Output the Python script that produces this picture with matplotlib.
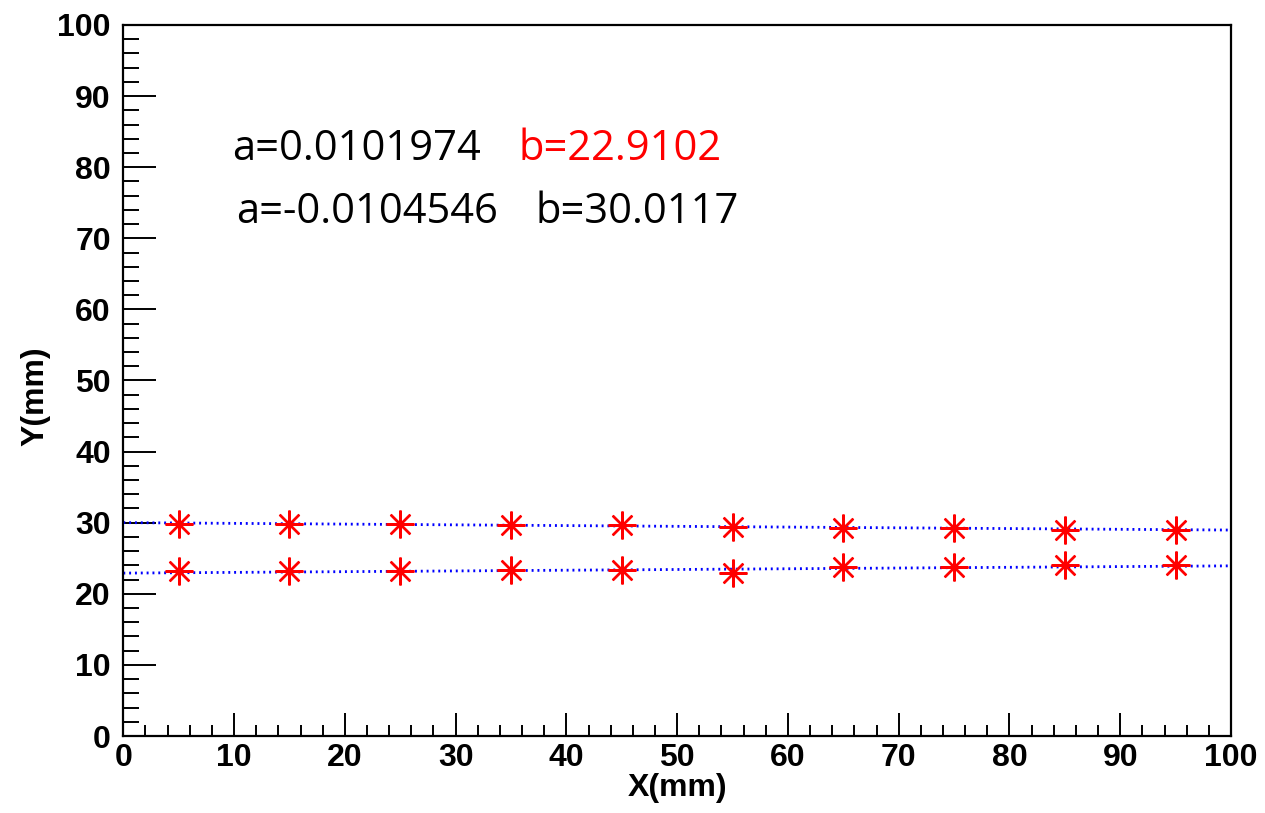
import numpy as np
import matplotlib.pyplot as plt
from matplotlib.ticker import MultipleLocator

# measured positions (mm)
x_pts = [5, 15, 25, 35, 45, 55, 65, 75, 85, 95]
y_upper = [29.8, 29.8, 29.8, 29.7, 29.7, 29.4, 29.3, 29.3, 29.0, 29.0]
y_lower = [23.2, 23.2, 23.2, 23.3, 23.3, 22.9, 23.8, 23.8, 24.0, 24.0]

# linear fit results y = a*x + b
a_lower, b_lower = 0.0101974, 22.9102
a_upper, b_upper = -0.0104546, 30.0117

plt.rcParams['font.family'] = ['Liberation Sans', 'DejaVu Sans']
fig = plt.figure(figsize=(12.65, 8.13), dpi=100)
ax = fig.add_axes([123.3 / 1265, 1 - 736 / 813, (1231 - 123.3) / 1265, (736 - 25) / 813])

xf = np.linspace(0, 100, 2)
for a, b in [(a_upper, b_upper), (a_lower, b_lower)]:
    ax.plot(xf, a * xf + b, color='blue', lw=2.0, ls=(0, (0.7, 1.4)), zorder=2)

star = (8, 2, 0)
ax.plot(x_pts, y_upper, ls='none', marker=star, ms=20, mew=1.7, color='red', zorder=3)
ax.plot(x_pts, y_lower, ls='none', marker=star, ms=20, mew=1.7, color='red', zorder=3)

ax.set_xlim(0, 100)
ax.set_ylim(0, 100)
ax.xaxis.set_major_locator(MultipleLocator(10))
ax.xaxis.set_minor_locator(MultipleLocator(2))
ax.yaxis.set_major_locator(MultipleLocator(10))
ax.yaxis.set_minor_locator(MultipleLocator(2))
ax.tick_params(axis='both', which='both', direction='in', width=1.4, top=False, right=False,
               labelsize=23)
ax.tick_params(axis='x', which='major', length=16.5, pad=5)
ax.tick_params(axis='x', which='minor', length=8)
ax.tick_params(axis='y', which='major', length=23.5, pad=9)
ax.tick_params(axis='y', which='minor', length=11.5)
for lab in ax.get_xticklabels() + ax.get_yticklabels():
    lab.set_fontweight('bold')
for sp in ax.spines.values():
    sp.set_linewidth(1.6)

ax.set_xlabel('X(mm)', fontsize=23, fontweight='bold', labelpad=0)
ax.set_ylabel('Y(mm)', fontsize=23, fontweight='bold')
ax.yaxis.set_label_coords(-0.066, 0.478)

tf = dict(fontsize=30, family=['Open Sans', 'DejaVu Sans'], va='center')
ax.text(9.8, 82.6, 'a=0.0101974', color='black', **tf)
ax.text(35.7, 82.6, 'b=22.9102', color='red', **tf)
ax.text(10.2, 73.7, 'a=-0.0104546', color='black', **tf)
ax.text(37.2, 73.7, 'b=30.0117', color='black', **tf)

fig.savefig('out.png', dpi=100)
